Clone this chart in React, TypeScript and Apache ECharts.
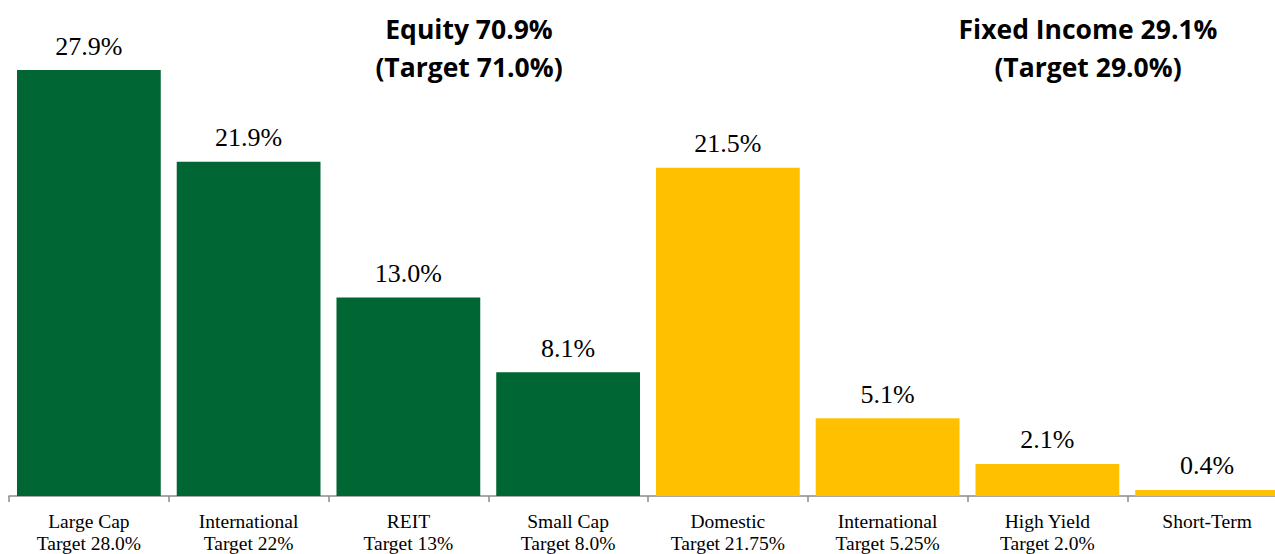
import React, { useEffect, useRef } from "react";
import * as echarts from "echarts";

const categories = [
  "Large Cap\nTarget 28.0%",
  "International\nTarget 22%",
  "REIT\nTarget 13%",
  "Small Cap\nTarget 8.0%",
  "Domestic\nTarget 21.75%",
  "International\nTarget 5.25%",
  "High Yield\nTarget 2.0%",
  "Short-Term",
];
const values = [27.9, 21.9, 13.0, 8.1, 21.5, 5.1, 2.1, 0.4];
const groups = ["equity", "equity", "equity", "equity", "fixed", "fixed", "fixed", "fixed"];
const groupColors: Record<string, string> = { equity: "#006633", fixed: "#FFC000" };
const equityTitle = ["Equity 70.9%", "(Target 71.0%)"];
const fixedTitle = ["Fixed Income 29.1%", "(Target 29.0%)"];

export default function App() {
  const ref = useRef<HTMLDivElement>(null);
  useEffect(() => {
    if (!ref.current) return;
    const prevMarginRight = document.body.style.marginRight;
    document.body.style.marginRight = "0px";
    const chart = echarts.init(ref.current, undefined, { renderer: "svg" });
    const titleStyle = {
      fontFamily: "Open Sans",
      fontWeight: "bold",
      fontSize: 26.5,
      lineHeight: 38,
      color: "#000",
    };
    chart.setOption({
      animation: false,
      grid: { left: 1, right: 1, top: 30, bottom: 57, containLabel: false },
      xAxis: {
        type: "category",
        data: categories,
        axisLine: { lineStyle: { color: "#8c8c8c", width: 1.5 } },
        axisTick: { show: true, length: 6, lineStyle: { color: "#8c8c8c", width: 1.5 } },
        axisLabel: {
          interval: 0,
          color: "#000",
          fontFamily: "Liberation Serif",
          fontSize: 19.5,
          lineHeight: 22,
          margin: 14,
        },
      },
      yAxis: {
        type: "value",
        min: 0,
        max: 30,
        show: false,
        splitLine: { show: false },
      },
      series: [
        {
          type: "bar",
          barCategoryGap: "10%",
          data: values.map((v, i) => ({
            value: v,
            itemStyle: { color: groupColors[groups[i]] },
          })),
          label: {
            show: true,
            position: "top",
            distance: 11,
            color: "#000",
            fontFamily: "Liberation Serif",
            fontSize: 26,
            formatter: (p: any) => p.value.toFixed(1) + "%",
          },
        },
      ],
      title: [
        {
          text: equityTitle.join("\n"),
          left: 456,
          top: -3,
          textAlign: "center",
          textStyle: titleStyle,
        },
        {
          text: fixedTitle.join("\n"),
          left: 1075,
          top: -3,
          textAlign: "center",
          textStyle: titleStyle,
        },
      ],
    });
    return () => {
      chart.dispose();
      document.body.style.marginRight = prevMarginRight;
    };
  }, []);
  return (
    <div style={{ width: 1267, height: 546, overflow: "hidden" }}>
      <div ref={ref} style={{ width: 1280, height: 546 }} />
    </div>
  );
}
